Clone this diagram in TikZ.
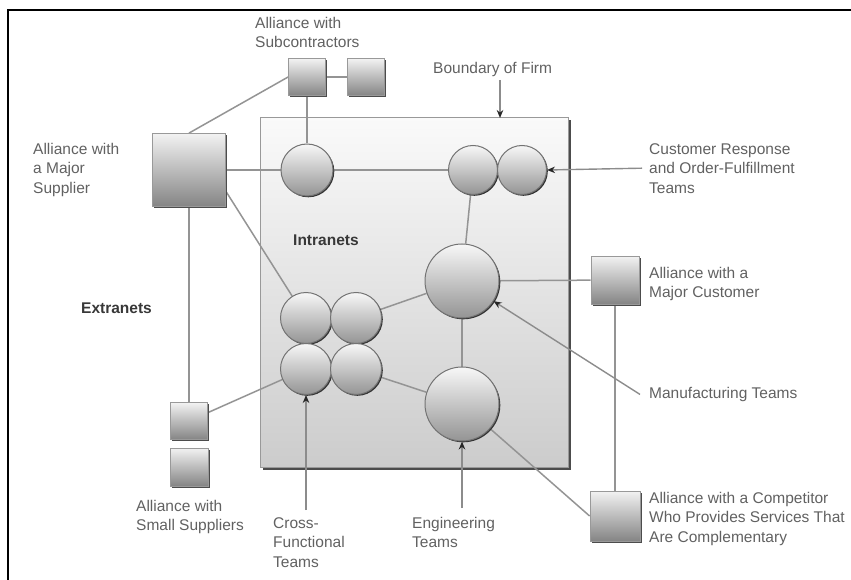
\documentclass[tikz,border=0pt]{standalone}
\usepackage{fontspec}
\setmainfont{Liberation Sans}
\usetikzlibrary{arrows.meta,shadows,backgrounds}

\tikzset{
    link/.style={draw=black!42, line width=1.5pt},
    pointer/.style={draw=black!45, line width=1.4pt, -{Stealth[length=8pt,width=6.5pt,black!85]}},
    firm/.style={rectangle, draw=black!40, line width=1pt, top color=black!2, bottom color=black!20,
        minimum width=308pt, minimum height=349pt, inner sep=0pt,
        drop shadow={shadow xshift=2.5pt, shadow yshift=-2.5pt, opacity=1, fill=black!70}},
    team/.style={circle, draw=black!55, line width=1pt, top color=black!3, bottom color=black!42,
        minimum size=#1, inner sep=0pt,
        drop shadow={shadow xshift=1.3pt, shadow yshift=-1.3pt, opacity=1, fill=black!80}},
    partner/.style={rectangle, draw=black!40, line width=0.8pt, top color=black!5, bottom color=black!48,
        minimum size=#1, inner sep=0pt,
        drop shadow={shadow xshift=1.8pt, shadow yshift=-1.8pt, opacity=1, fill=black!70}},
    caption/.style={anchor=north west, inner sep=0pt, align=left, text=black!62,
        font=\fontsize{15.5}{19.5}\selectfont},
    heading/.style={anchor=north west, inner sep=0pt, text=black!78,
        font=\fontsize{15.5}{19.5}\selectfont\bfseries}
}

\begin{document}
\begin{tikzpicture}[x=1pt, y=-1pt]
    \useasboundingbox (0,0) rectangle (851,580);
    % Frame
    \draw[line width=1.3pt] (8,580) -- (8,10) -- (851,10);

    % Teams inside the firm
    \node[team=52pt] (single) at (307,170) {};
    \node[team=49pt] (ordl) at (473,170) {};
    \node[team=49pt] (ordr) at (522,170) {};
    \node[team=74pt] (manu) at (462,281) {};
    \node[team=74pt] (eng) at (462,404) {};
    \node[team=51pt] (xtl) at (306,318) {};
    \node[team=51pt] (xtr) at (356,318) {};
    \node[team=51pt] (xbl) at (306,369) {};
    \node[team=51pt] (xbr) at (356,369) {};

    % Alliances outside the firm
    \node[partner=37pt] (sub1) at (307,77) {};
    \node[partner=37pt] (sub2) at (366,77) {};
    \node[partner=73pt] (sup) at (189,170) {};
    \node[partner=37pt] (small1) at (189,421) {};
    \node[partner=38pt] (small2) at (189,467) {};
    \node[partner=48pt] (mcust) at (615,280) {};
    \node[partner=50pt] (comp) at (615,516) {};

    % Boundary and network lines, behind everything
    \begin{scope}[on background layer]
        \node[firm] (firmbox) at (414,292.5) {};
        \draw[link] (sub1) -- (sub2);
        \draw[link] (sub1) -- (single);
        \draw[link] (sup.north) -- (sub1.west);
        \draw[link] (sup) -- (single);
        \draw[link] (single) -- (ordl);
        \draw[link] (sup.-30) -- (xtl);
        \draw[link] (sup) -- (small1);
        \draw[link] (small1) -- (xbl);
        \draw[link] (ordl) -- (manu);
        \draw[link] (manu) -- (xtr);
        \draw[link] (manu) -- (eng);
        \draw[link] (manu) -- (mcust);
        \draw[link] (xbr) -- (eng);
        \draw[link] (eng) -- (comp.west);
        \draw[link] (mcust) -- (comp);
    \end{scope}

    % Labels
    \node[caption] (lsub) at (255,17) {Alliance with\\Subcontractors};
    \node[caption] (lsup) at (33,143) {Alliance with\\a Major\\Supplier};
    \node[caption] (lbnd) at (433,62) {Boundary of Firm};
    \node[caption] (lcust) at (649,143) {Customer Response\\and Order-Fulfillment\\Teams};
    \node[heading] (lintra) at (293,235) {Intranets};
    \node[heading] (lextra) at (81,303) {Extranets};
    \node[caption] (lmcust) at (649,267) {Alliance with a\\Major Customer};
    \node[caption] (lmanu) at (649,387) {Manufacturing Teams};
    \node[caption] (lsmall) at (136,500) {Alliance with\\Small Suppliers};
    \node[caption] (lcross) at (273,517) {Cross-\\Functional\\Teams};
    \node[caption] (leng) at (412,517) {Engineering\\Teams};
    \node[caption] (lcomp) at (649,492) {Alliance with a Competitor\\Who Provides Services That\\Are Complementary};

    % Pointers from the labels
    \coordinate (bndtip) at (500,118);
    \draw[pointer] ([yshift=-3pt]bndtip |- lbnd.south) -- (bndtip);
    \draw[pointer] ([xshift=-7pt]lcust.west) -- (ordr.east);
    \draw[pointer] ([xshift=-9pt]lmanu.west) -- (manu);
    \draw[pointer] ([yshift=7pt]lcross.north -| xbl) -- (xbl);
    \draw[pointer] ([yshift=9pt]leng.north -| eng) -- (eng);
\end{tikzpicture}
\end{document}
